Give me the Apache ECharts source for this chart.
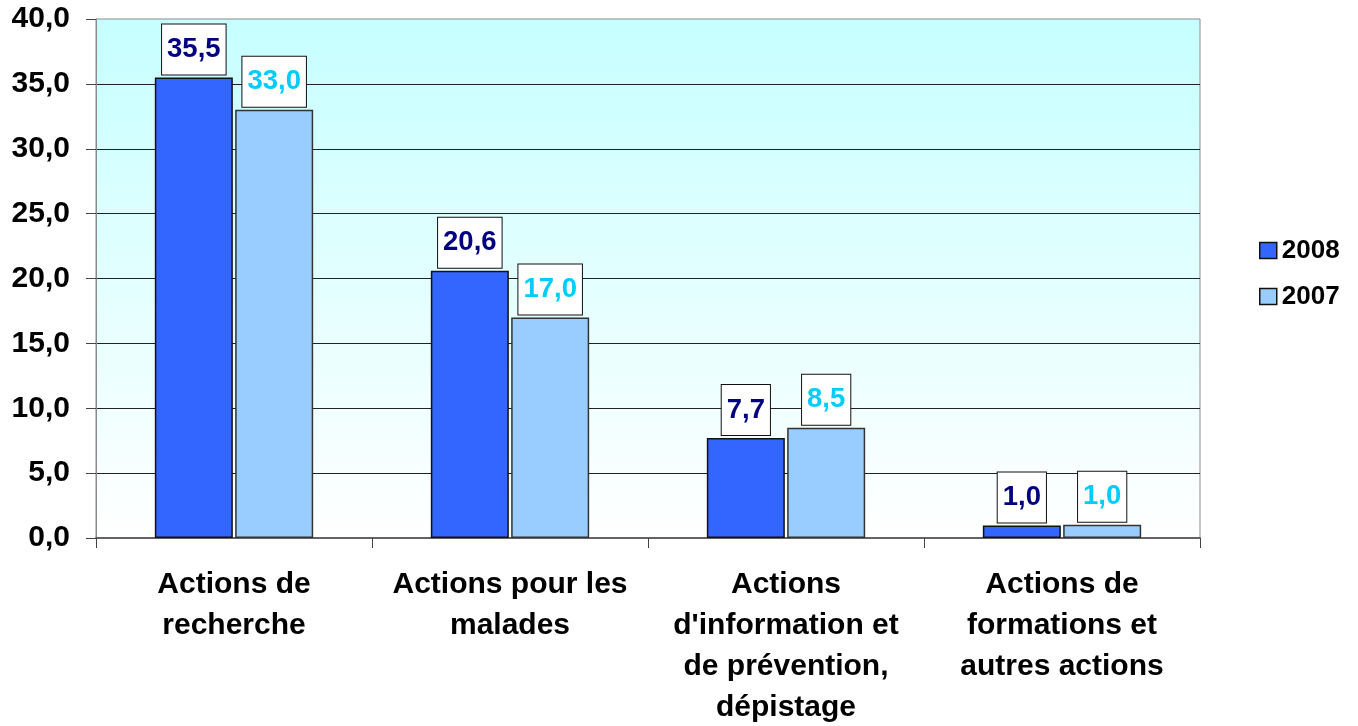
<!DOCTYPE html>
<html>
<head>
<meta charset="utf-8">
<script src="https://cdn.jsdelivr.net/npm/echarts@6/dist/echarts.min.js"></script>
<style>html,body{margin:0;padding:0;background:#fff}#c{width:1358px;height:726px}</style>
</head>
<body>
<div id="c"></div>
<script>
const categories = ["Actions de\nrecherche", "Actions pour les\nmalades", "Actions\nd'information et\nde prévention,\ndépistage", "Actions de\nformations et\nautres actions"];
const seriesNames = ["2008", "2007"];
const values2008 = [35.5, 20.6, 7.7, 0.96];
const values2007 = [33.0, 17.0, 8.5, 1.02];
const yTicks = { min: 0, max: 40, interval: 5 };

const FONT = "'Liberation Sans', Arial, sans-serif";
const fmt = v => Number(v).toFixed(1).replace('.', ',');

function barSeries(name, data, color, labelColor, border) {
  return {
    name: name, type: 'bar', data: data, barWidth: 78, barGap: '3%',
    itemStyle: { color: color, borderColor: border, borderWidth: 1.5 },
    label: {
      show: true, position: 'top', distance: 3,
      formatter: p => fmt(p.value),
      fontFamily: FONT, fontWeight: 'bold', fontSize: 27.5, lineHeight: 30,
      color: labelColor, backgroundColor: '#fff', borderColor: '#111', borderWidth: 1,
      padding: [10, 5, 10, 5]
    }
  };
}

const chart = echarts.init(document.getElementById('c'), null, { renderer: 'canvas' });
chart.setOption({
  animation: false,
  grid: {
    left: 96, right: 158, top: 19, bottom: 188, show: true,
    outerBoundsMode: 'none', containLabel: false,
    borderColor: '#8a8a8a', borderWidth: 1,
    backgroundColor: { type: 'linear', x: 0, y: 0, x2: 0, y2: 1,
      colorStops: [{ offset: 0, color: '#c6ffff' }, { offset: 1, color: '#ffffff' }] }
  },
  legend: {
    orient: 'vertical', left: 1254, top: 232, itemWidth: 17, itemHeight: 16, itemGap: 19,
    icon: 'rect',
    itemStyle: { borderColor: '#111', borderWidth: 1.5 },
    textStyle: { fontFamily: FONT, fontWeight: 'bold', fontSize: 26, lineHeight: 27, color: '#000', padding: [0, 0, 0, 0] },
    data: seriesNames
  },
  xAxis: {
    type: 'category', data: categories,
    axisLine: { lineStyle: { color: '#444', width: 1.5 } },
    axisTick: { show: true, length: 10, alignWithLabel: false, lineStyle: { color: '#444', width: 1 } },
    axisLabel: { interval: 0, margin: 26, fontFamily: FONT, fontWeight: 'bold', fontSize: 30, lineHeight: 41, color: '#000', align: 'center' }
  },
  yAxis: {
    type: 'value', min: yTicks.min, max: yTicks.max, interval: yTicks.interval,
    axisLine: { show: true, lineStyle: { color: '#8a8a8a', width: 1 } },
    axisTick: { show: true, length: 10, lineStyle: { color: '#444' } },
    axisLabel: { margin: 26, formatter: v => fmt(v), fontFamily: FONT, fontWeight: 'bold', fontSize: 30, color: '#000' },
    splitLine: { show: true, showMinLine: false, showMaxLine: false, lineStyle: { color: '#222', width: 1.2 } }
  },
  series: [
    barSeries(seriesNames[0], values2008, '#3366ff', '#000080', '#111'),
    barSeries(seriesNames[1], values2007, '#99ccff', '#00ccff', '#333')
  ]
});
</script>
</body>
</html>
